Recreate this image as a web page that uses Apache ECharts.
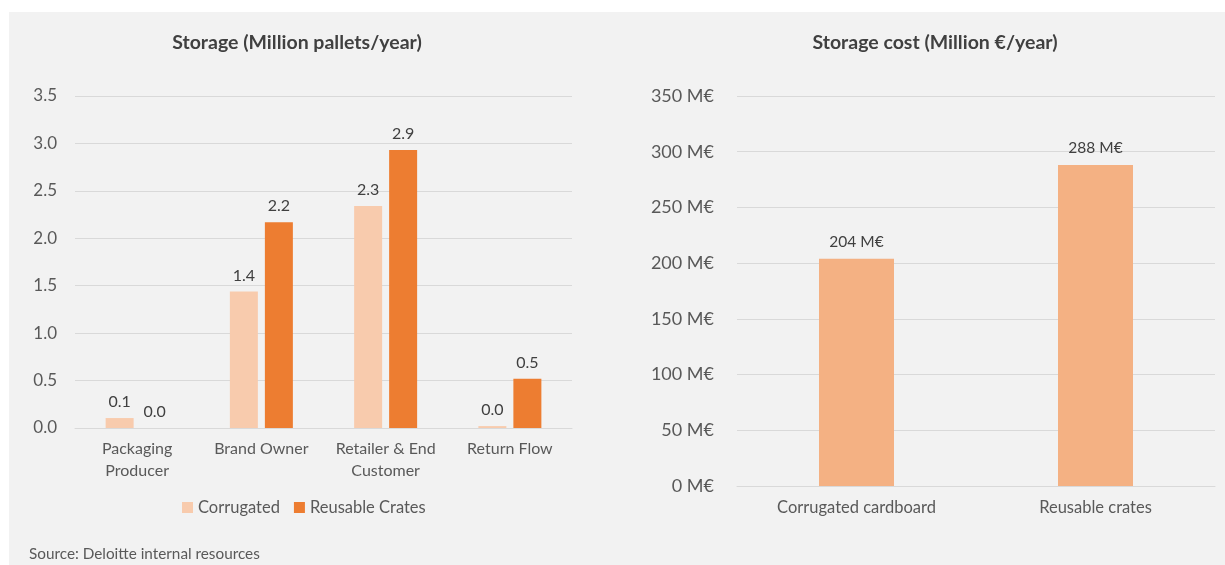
<!DOCTYPE html>
<html>
<head>
<meta charset="utf-8">
<script src="https://cdn.jsdelivr.net/npm/echarts@6/dist/echarts.min.js"></script>
<style>
  body { margin: 0; background: #ffffff; }
  #chart { position: absolute; left: 9px; top: 12px; width: 1216px; height: 553px; background: #f2f2f2; }
</style>
</head>
<body>
<div id="chart"></div>
<script>
// left chart: storage volume
const stages = ['Packaging\nProducer', 'Brand Owner', 'Retailer & End\nCustomer', 'Return Flow']
const corrugated = [0.105, 1.44, 2.34, 0.02]
const reusable = [0.0, 2.17, 2.93, 0.52]
const palletTicks = [0, 3.5, 0.5] // min, max, interval

// right chart: storage cost
const costCats = ['Corrugated cardboard', 'Reusable crates']
const costValues = [204, 288]
const costTicks = [0, 350, 50]

const txt = '#595959'
const font = 'Lato, "Open Sans", sans-serif'

const myChart = echarts.init(document.getElementById('chart'))
var option = {
  textStyle: { fontFamily: font },
  title: [
    {
      text: 'Storage (Million pallets/year)',
      left: 283, top: 16, textAlign: 'center',
      textStyle: { fontSize: 19.5, fontWeight: 'bold', color: '#404040', fontFamily: font },
    },
    {
      text: 'Storage cost (Million €/year)',
      left: 921, top: 16, textAlign: 'center',
      textStyle: { fontSize: 19.5, fontWeight: 'bold', color: '#404040', fontFamily: font },
    },
  ],
  legend: {
    data: ['Corrugated', 'Reusable Crates'],
    left: 168, top: 482,
    itemWidth: 11, itemHeight: 11, itemGap: 14,
    icon: 'rect',
    textStyle: { fontSize: 16.5, color: txt, fontFamily: font },
  },
  graphic: [
    {
      type: 'text', left: 20, top: 535,
      style: { text: 'Source: Deloitte internal resources', fontSize: 15.3, fill: txt, fontFamily: font },
    },
  ],
  grid: [
    { left: 66, top: 84, width: 497, height: 332 },
    { left: 728, top: 84, width: 478, height: 390 },
  ],
  xAxis: [
    {
      gridIndex: 0, type: 'category', data: stages,
      axisLine: { lineStyle: { color: '#d9d9d9' } },
      axisTick: { show: false },
      axisLabel: { interval: 0, hideOverlap: false, color: txt, fontSize: 16, lineHeight: 22, margin: 10, fontFamily: font },
    },
    {
      gridIndex: 1, type: 'category', data: costCats,
      axisLine: { lineStyle: { color: '#d9d9d9' } },
      axisTick: { show: false },
      axisLabel: { interval: 0, color: txt, fontSize: 16.5, margin: 13, fontFamily: font },
    },
  ],
  yAxis: [
    {
      gridIndex: 0, type: 'value',
      min: palletTicks[0], max: palletTicks[1], interval: palletTicks[2],
      axisLabel: { color: txt, fontSize: 17, margin: 18, formatter: (v) => v.toFixed(1), fontFamily: font },
      splitLine: { lineStyle: { color: '#d9d9d9' } },
    },
    {
      gridIndex: 1, type: 'value',
      min: costTicks[0], max: costTicks[1], interval: costTicks[2],
      axisLabel: { color: txt, fontSize: 18, margin: 23, formatter: (v) => v + ' M€', fontFamily: font },
      splitLine: { lineStyle: { color: '#d9d9d9' } },
    },
  ],
  series: [
    {
      name: 'Corrugated', type: 'bar', xAxisIndex: 0, yAxisIndex: 0,
      data: corrugated, barWidth: 28, barGap: '25%',
      itemStyle: { color: '#f8cbad' },
      label: { show: true, position: 'top', distance: 8, color: '#404040', fontSize: 16, formatter: (p) => p.value.toFixed(1) },
    },
    {
      name: 'Reusable Crates', type: 'bar', xAxisIndex: 0, yAxisIndex: 0,
      data: reusable, barWidth: 28, barGap: '25%',
      itemStyle: { color: '#ed7d31' },
      label: { show: true, position: 'top', distance: 8, color: '#404040', fontSize: 16, formatter: (p) => p.value.toFixed(1) },
    },
    {
      name: 'Cost', type: 'bar', xAxisIndex: 1, yAxisIndex: 1,
      data: costValues, barWidth: 75,
      itemStyle: { color: '#f4b183' },
      label: { show: true, position: 'top', distance: 9, color: '#404040', fontSize: 15.5, formatter: (p) => p.value + ' M€' },
    },
  ],
}
myChart.setOption(option)
</script>
</body>
</html>
